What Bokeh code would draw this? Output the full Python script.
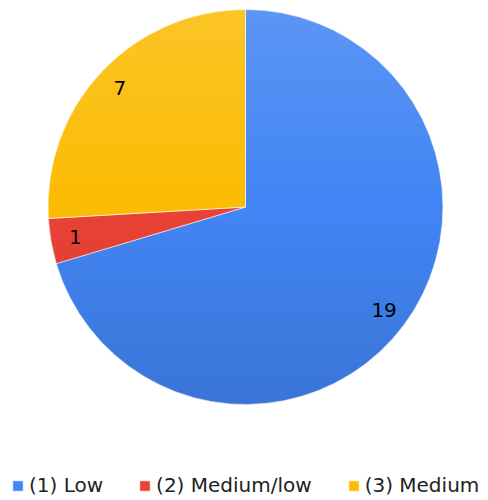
import math
import numpy as np
from bokeh.plotting import figure
from bokeh.models import Range1d, Legend, LegendItem, ColumnDataSource
from bokeh.core.properties import value
from bokeh.embed import file_html
from bokeh.resources import INLINE

# ---- data ----
categories = ["(1) Low", "(2) Medium/low", "(3) Medium"]
counts = [19, 1, 7]
colors = ["#4285F4", "#EA4335", "#FBBC04"]

W, H = 488, 500
FONT = "DejaVu Sans"

p = figure(width=W, height=H, output_backend="svg", toolbar_location=None,
           x_range=Range1d(0, W), y_range=Range1d(0, H), min_border=0,
           background_fill_color="white", border_fill_color="white")
p.axis.visible = False
p.grid.visible = False
p.outline_line_color = None

cx, cy, r = 245.0, H - 206.5, 197.5

total = float(sum(counts))
starts, ends, mids = [], [], []
a = math.pi / 2
for c in counts:
    sweep = 2 * math.pi * c / total
    starts.append(a)
    ends.append(a - sweep)
    mids.append(a - sweep / 2)
    a -= sweep

src = ColumnDataSource(dict(start=starts, end=ends, color=colors, label=categories,
                            x=[cx] * len(counts), y=[cy] * len(counts)))
wr = p.wedge(x="x", y="y", radius=r, start_angle="start", end_angle="end",
             direction="clock", fill_color="color", line_color="white",
             line_width=0.6, source=src)

# subtle vertical gradient overlay (light at top, darker at bottom)
N = int(round(2 * r))
yy, xx = np.mgrid[0:N, 0:N]
px = xx + 0.5 - N / 2.0
py = yy + 0.5 - N / 2.0
d = np.sqrt(px ** 2 + py ** 2)
cov = np.clip(r - d + 0.5, 0, 1)
t = (yy + 0.5) / N  # 0 bottom, 1 top
img = np.zeros((N, N), dtype=np.uint32)
view = img.view(dtype=np.uint8).reshape((N, N, 4))
white_a = np.clip((t - 0.5) * 2, 0, 1) * 0.14
black_a = np.clip((0.5 - t) * 2, 0, 1) * 0.12
is_white = t >= 0.5
view[..., 0] = np.where(is_white, 255, 0)
view[..., 1] = np.where(is_white, 255, 0)
view[..., 2] = np.where(is_white, 255, 0)
view[..., 3] = (np.where(is_white, white_a, black_a) * cov * 255).astype(np.uint8)
p.image_rgba(image=[img], x=cx - r, y=cy - r, dw=2 * r, dh=2 * r)

# value labels
lf = 0.875
lx = [cx + lf * r * math.cos(m) for m in mids]
ly = [cy + lf * r * math.sin(m) for m in mids]
p.text(x=lx, y=ly, text=[str(c) for c in counts], text_align="center",
       text_baseline="middle", text_font=value(FONT), text_font_size="20px",
       text_color="#000000")

items = [LegendItem(label=categories[i], renderers=[wr], index=i) for i in range(len(categories))]
legend = Legend(items=items, orientation="horizontal", location=(11, 3),
                glyph_width=13, glyph_height=13, label_standoff=5, spacing=35,
                padding=0, margin=0, border_line_color=None,
                background_fill_alpha=0, label_text_font=FONT,
                label_text_font_size="20px", label_text_color="#222222",
                label_height=20)
p.add_layout(legend, "center")

open("out.html", "w").write(file_html(p, INLINE))
